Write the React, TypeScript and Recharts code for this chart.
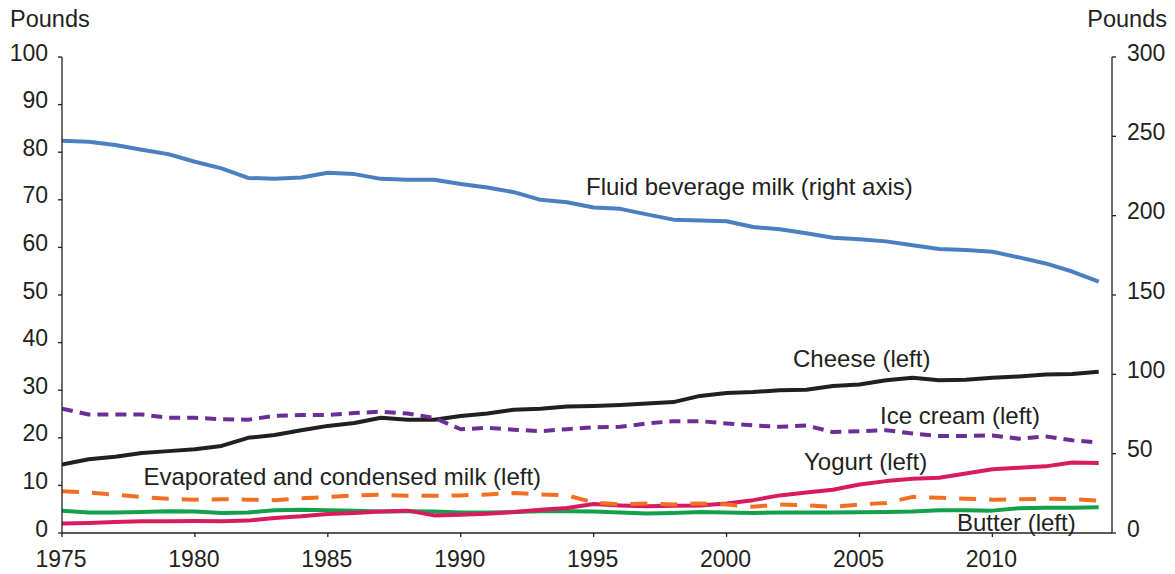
import React from "react";
import { LineChart, Line, XAxis, YAxis } from "recharts";

const years = [
  1975, 1976, 1977, 1978, 1979, 1980, 1981, 1982, 1983, 1984,
  1985, 1986, 1987, 1988, 1989, 1990, 1991, 1992, 1993, 1994,
  1995, 1996, 1997, 1998, 1999, 2000, 2001, 2002, 2003, 2004,
  2005, 2006, 2007, 2008, 2009, 2010, 2011, 2012, 2013, 2014,
];

// Right axis (pounds)
const fluidMilk = [
  247.2, 246.6, 244.5, 241.5, 238.8, 234.0, 229.8, 223.8, 223.2, 224.1,
  227.1, 226.2, 223.2, 222.6, 222.6, 219.9, 217.8, 214.8, 210.0, 208.5,
  205.1, 204.3, 200.8, 197.5, 196.9, 196.5, 192.9, 191.4, 188.9, 186.1,
  185.1, 183.8, 181.3, 179.0, 178.3, 177.3, 173.7, 169.9, 164.8, 158.5,
];

// Left axis (pounds)
const cheese = [
  14.4, 15.5, 16.0, 16.8, 17.2, 17.6, 18.3, 20.0, 20.6, 21.6,
  22.5, 23.1, 24.2, 23.8, 23.8, 24.6, 25.1, 25.9, 26.1, 26.6,
  26.7, 26.9, 27.2, 27.5, 28.8, 29.4, 29.6, 30.0, 30.1, 30.9,
  31.2, 32.1, 32.6, 32.1, 32.2, 32.6, 32.9, 33.3, 33.4, 33.9,
];

const iceCream = [
  26.1, 24.9, 24.9, 24.9, 24.2, 24.2, 23.9, 23.8, 24.6, 24.8,
  24.8, 25.2, 25.5, 25.1, 24.2, 21.8, 22.1, 21.7, 21.4, 21.8,
  22.2, 22.3, 23.0, 23.5, 23.5, 23.0, 22.6, 22.3, 22.6, 21.2,
  21.4, 21.6, 20.9, 20.4, 20.4, 20.5, 19.8, 20.3, 19.5, 19.0,
];

const evaporated = [
  8.75, 8.5, 8.05, 7.56, 7.2, 7.0, 7.1, 7.0, 6.9, 7.3,
  7.56, 7.9, 8.05, 7.8, 7.8, 7.9, 8.1, 8.4, 8.1, 7.9,
  6.4, 6.0, 6.2, 6.0, 6.2, 6.0, 5.5, 6.0, 5.8, 5.5,
  6.0, 6.3, 7.6, 7.4, 7.2, 7.0, 7.1, 7.2, 7.1, 6.8,
];

const yogurt = [
  2.0, 2.1, 2.3, 2.45, 2.45, 2.5, 2.45, 2.6, 3.15, 3.5,
  4.0, 4.2, 4.5, 4.7, 3.7, 3.85, 4.05, 4.4, 4.9, 5.25,
  6.1, 5.8, 5.6, 5.7, 5.8, 6.2, 6.9, 7.9, 8.5, 9.1,
  10.2, 10.9, 11.4, 11.6, 12.5, 13.4, 13.7, 14.0, 14.8, 14.7,
];

const butter = [
  4.7, 4.3, 4.3, 4.4, 4.55, 4.5, 4.2, 4.3, 4.8, 4.9,
  4.8, 4.7, 4.5, 4.55, 4.5, 4.3, 4.3, 4.4, 4.55, 4.55,
  4.5, 4.3, 4.1, 4.2, 4.4, 4.3, 4.2, 4.3, 4.3, 4.3,
  4.35, 4.4, 4.5, 4.8, 4.8, 4.7, 5.2, 5.3, 5.3, 5.4,
];

const xTicks = [1975, 1980, 1985, 1990, 1995, 2000, 2005, 2010];
const leftTicks = [0, 10, 20, 30, 40, 50, 60, 70, 80, 90, 100];
const rightTicks = [0, 50, 100, 150, 200, 250, 300];

const seriesLabels = {
  fluid: "Fluid beverage milk (right axis)",
  cheese: "Cheese (left)",
  iceCream: "Ice cream (left)",
  yogurt: "Yogurt (left)",
  evaporated: "Evaporated and condensed milk (left)",
  butter: "Butter (left)",
};

const data = years.map((y, i) => ({
  year: y,
  fluid: fluidMilk[i],
  cheese: cheese[i],
  iceCream: iceCream[i],
  evaporated: evaporated[i],
  yogurt: yogurt[i],
  butter: butter[i],
}));

const FONT = "'Liberation Sans', Arial, Helvetica, sans-serif";
const TEXT = "#231f20";
const AXIS = "#231f20";

const LeftTick = (props: any) => {
  const { x, y, payload } = props;
  return (
    <text x={x} y={y + 3.5} textAnchor="end" fontFamily={FONT} fontSize={23} fill={TEXT}>
      {payload.value}
    </text>
  );
};

const RightTick = (props: any) => {
  const { x, y, payload } = props;
  return (
    <text x={x} y={y + 3.5} textAnchor="start" fontFamily={FONT} fontSize={23} fill={TEXT}>
      {payload.value}
    </text>
  );
};

const BottomTick = (props: any) => {
  const { x, y, payload } = props;
  return (
    <text x={x - 1} y={y + 15.5} textAnchor="middle" fontFamily={FONT} fontSize={23} fill={TEXT}>
      {payload.value}
    </text>
  );
};

export default function App() {
  const W = 1175;
  const H = 574;
  const annot = { fontFamily: FONT, fontSize: 24, fill: TEXT } as const;
  return (
    <div style={{ position: "absolute", left: 0, top: 0, width: W, height: H, background: "#fff" }}>
      <LineChart width={W} height={H} data={data} margin={{ top: 57, right: 0, bottom: 0, left: 0 }}>
        <XAxis
          dataKey="year"
          type="number"
          domain={[1975, 2014.5]}
          ticks={xTicks}
          height={41}
          tickSize={4}
          tickMargin={14}
          stroke={AXIS}
          strokeWidth={1.3}
          tick={<BottomTick />}
          allowDataOverflow
        />
        <YAxis
          yAxisId="left"
          orientation="left"
          domain={[0, 100]}
          ticks={leftTicks}
          width={62}
          tickSize={4}
          tickMargin={10}
          stroke={AXIS}
          strokeWidth={1.3}
          tick={<LeftTick />}
          interval={0}
        />
        <YAxis
          yAxisId="right"
          orientation="right"
          domain={[0, 300]}
          ticks={rightTicks}
          width={63}
          tickSize={4}
          tickMargin={11}
          stroke={AXIS}
          strokeWidth={1.3}
          tick={<RightTick />}
          interval={0}
        />
        <Line yAxisId="right" dataKey="fluid" stroke="#4a7fc1" strokeWidth={4} dot={false} activeDot={false} isAnimationActive={false} strokeLinejoin="round" />
        <Line yAxisId="left" dataKey="cheese" stroke="#231f20" strokeWidth={4} dot={false} activeDot={false} isAnimationActive={false} strokeLinejoin="round" />
        <Line yAxisId="left" dataKey="iceCream" stroke="#6a2f96" strokeWidth={4} strokeDasharray="11 7" dot={false} activeDot={false} isAnimationActive={false} strokeLinejoin="round" />
        <Line yAxisId="left" dataKey="butter" stroke="#14a04b" strokeWidth={4} dot={false} activeDot={false} isAnimationActive={false} strokeLinejoin="round" />
        <Line yAxisId="left" dataKey="yogurt" stroke="#d81b5e" strokeWidth={4} dot={false} activeDot={false} isAnimationActive={false} strokeLinejoin="round" />
        <Line yAxisId="left" dataKey="evaporated" stroke="#f26f22" strokeWidth={4} strokeDasharray="17 13" dot={false} activeDot={false} isAnimationActive={false} strokeLinejoin="round" />
      </LineChart>
      <svg width={W} height={H} style={{ position: "absolute", left: 0, top: 0, pointerEvents: "none" }}>
        <text x={10} y={27} fontFamily={FONT} fontSize={23.5} fill={TEXT}>Pounds</text>
        <text x={1167} y={27} textAnchor="end" fontFamily={FONT} fontSize={23.5} fill={TEXT}>Pounds</text>
        <text x={586} y={194.5} {...annot}>{seriesLabels.fluid}</text>
        <text x={793} y={366.5} {...annot}>{seriesLabels.cheese}</text>
        <text x={880} y={424} {...annot}>{seriesLabels.iceCream}</text>
        <text x={804} y={469.5} {...annot}>{seriesLabels.yogurt}</text>
        <text x={143.5} y={485} {...annot}>{seriesLabels.evaporated}</text>
        <text x={957} y={531} {...annot}>{seriesLabels.butter}</text>
      </svg>
    </div>
  );
}
